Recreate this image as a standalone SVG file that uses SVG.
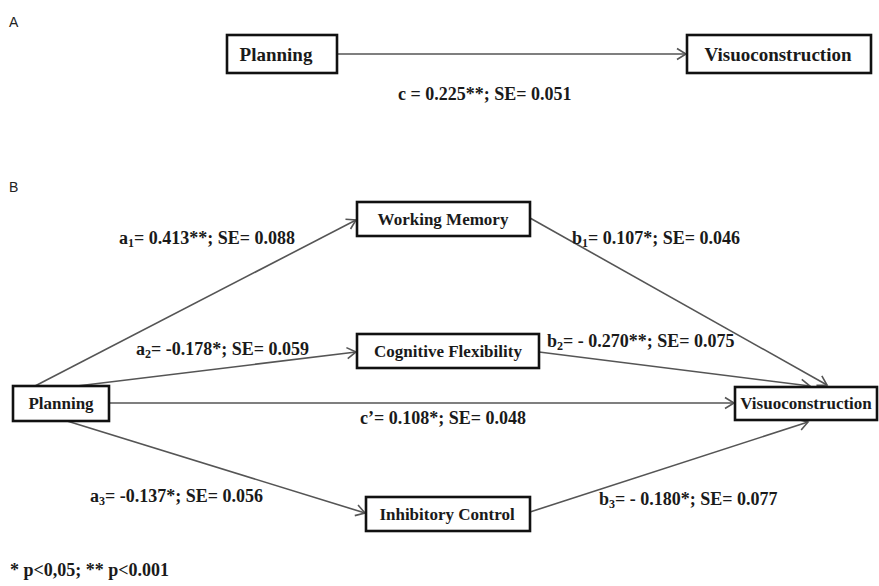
<svg xmlns="http://www.w3.org/2000/svg" width="879" height="586" viewBox="0 0 879 586">
<style>
.box{fill:#fff;stroke:#111;stroke-width:2.6}
.nt{font-family:"Liberation Serif","Times New Roman",serif;font-size:17px;font-weight:bold;fill:#1a1a1a;text-anchor:middle}
.ntA{font-size:19px}
.lb{font-family:"Liberation Serif","Times New Roman",serif;font-size:18px;font-weight:bold;fill:#1a1a1a}
.sb{font-size:12px}
.pl{font-family:"Liberation Sans",Arial,sans-serif;font-size:14px;fill:#222}
.cn{stroke:#555;stroke-width:1.6;fill:none;marker-end:url(#ah)}
</style>
<defs>
<marker id="ah" markerWidth="14" markerHeight="14" refX="11" refY="7" orient="auto" markerUnits="userSpaceOnUse">
<path d="M2,1.5 L11,7 L2,12.5" fill="none" stroke="#555" stroke-width="1.6"/>
</marker>
</defs>
<rect width="879" height="586" fill="#fff"/>
<text class="pl" x="9" y="27">A</text>
<text class="pl" x="9" y="192">B</text>
<g id="connectors">
<line class="cn" x1="337" y1="54" x2="686" y2="54"/>
<line class="cn" x1="35" y1="386" x2="356" y2="220"/>
<line class="cn" x1="77" y1="386" x2="356" y2="352"/>
<line class="cn" x1="109" y1="403" x2="734" y2="403"/>
<line class="cn" x1="67" y1="421" x2="365" y2="513"/>
<line class="cn" x1="530" y1="218" x2="827" y2="385"/>
<line class="cn" x1="539" y1="352" x2="810" y2="386"/>
<line class="cn" x1="530" y1="512" x2="808" y2="422"/>
</g>
<g id="labels">
<text class="lb" x="398" y="100">c = 0.225**; SE= 0.051</text>
<text class="lb" x="119" y="244">a<tspan class="sb" dy="3">1</tspan><tspan dy="-3">= 0.413**; SE= 0.088</tspan></text>
<text class="lb" x="572" y="244">b<tspan class="sb" dy="3">1</tspan><tspan dy="-3">= 0.107*; SE= 0.046</tspan></text>
<text class="lb" x="136" y="355">a<tspan class="sb" dy="3">2</tspan><tspan dy="-3">=  -0.178*; SE= 0.059</tspan></text>
<text class="lb" x="547" y="347">b<tspan class="sb" dy="3">2</tspan><tspan dy="-3">= - 0.270**; SE= 0.075</tspan></text>
<text class="lb" x="360" y="424">c’= 0.108*; SE= 0.048</text>
<text class="lb" x="90" y="502">a<tspan class="sb" dy="3">3</tspan><tspan dy="-3">= -0.137*; SE= 0.056</tspan></text>
<text class="lb" x="599" y="505">b<tspan class="sb" dy="3">3</tspan><tspan dy="-3">= - 0.180*; SE= 0.077</tspan></text>
<text class="lb" x="10" y="576">* p&lt;0,05; ** p&lt;0.001</text>
</g>
<g id="planningA"><rect class="box" x="227" y="35" width="110" height="38"/><text class="nt ntA" x="276" y="61">Planning</text></g>
<g id="visuoA"><rect class="box" x="687" y="35" width="184" height="38"/><text class="nt ntA" x="778" y="61">Visuoconstruction</text></g>
<g id="planningB"><rect class="box" x="13" y="386" width="96" height="35"/><text class="nt" x="61" y="409">Planning</text></g>
<g id="workingMemory"><rect class="box" x="357" y="202" width="173" height="34"/><text class="nt" x="443" y="225">Working Memory</text></g>
<g id="cognitiveFlexibility"><rect class="box" x="357" y="334" width="182" height="34"/><text class="nt" x="448" y="357">Cognitive Flexibility</text></g>
<g id="inhibitoryControl"><rect class="box" x="366" y="497" width="164" height="34"/><text class="nt" x="447" y="520">Inhibitory Control</text></g>
<g id="visuoB"><rect class="box" x="735" y="387" width="142" height="33"/><text class="nt" x="806" y="409">Visuoconstruction</text></g>
</svg>
